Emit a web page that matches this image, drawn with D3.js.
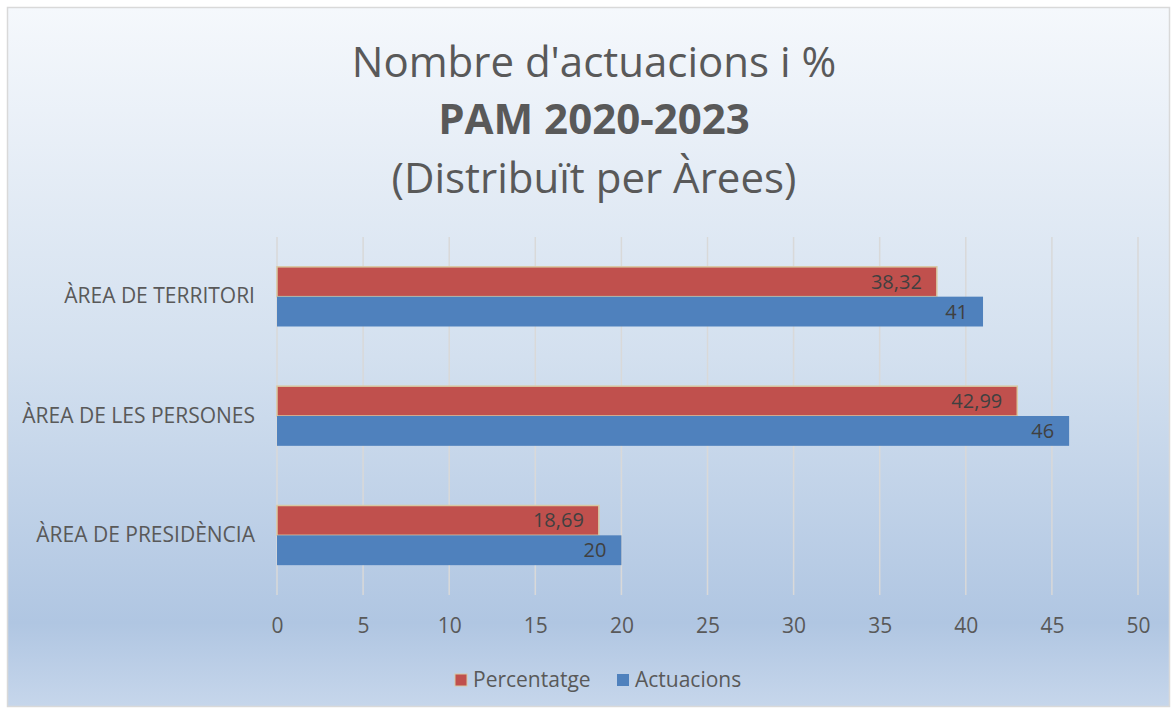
<!DOCTYPE html>
<html>
<head>
<meta charset="utf-8">
<script src="https://cdn.jsdelivr.net/npm/d3@7"></script>
<style>
  body { margin: 0; background: #fff; }
  svg text { font-family: "Open Sans", "Noto Sans", sans-serif; }
</style>
</head>
<body>
<div id="chart"></div>
<script>
  // chart data
  var categories = ['ÀREA DE TERRITORI', 'ÀREA DE LES PERSONES', 'ÀREA DE PRESIDÈNCIA'];
  var percentatge = [38.32, 42.99, 18.69];
  var actuacions = [41, 46, 20];
  var seriesNames = ['Percentatge', 'Actuacions'];
  var xTicks = [0, 5, 10, 15, 20, 25, 30, 35, 40, 45, 50];

  var width = 1173, height = 710;
  var margin = {top: 237, right: 35, bottom: 115, left: 277};
  var colors = {Percentatge: '#c0504d', Actuacions: '#4f81bd'};

  var svg = d3.select('#chart').append('svg')
    .attr('width', width)
    .attr('height', height);

  var defs = svg.append('defs');
  var grad = defs.append('linearGradient')
    .attr('id', 'bg')
    .attr('x1', 0).attr('y1', 0).attr('x2', 0).attr('y2', 1);
  grad.append('stop').attr('offset', '0%').attr('stop-color', '#f5f8fc');
  grad.append('stop').attr('offset', '50%').attr('stop-color', '#d3e0ef');
  grad.append('stop').attr('offset', '88%').attr('stop-color', '#b0c6e2');
  grad.append('stop').attr('offset', '100%').attr('stop-color', '#c6d6eb');

  svg.append('rect')
    .attr('x', 7.5).attr('y', 7.5)
    .attr('width', width - 11).attr('height', height - 11)
    .attr('fill', 'url(#bg)')
    .attr('stroke', '#d9d9d9')
    .attr('stroke-width', 1.5);

  // title
  var title = svg.append('g').attr('fill', '#595959').attr('text-anchor', 'middle');
  title.append('text').attr('x', 594).attr('y', 77).style('font-size', '42px')
    .text("Nombre d'actuacions i %");
  title.append('text').attr('x', 594).attr('y', 134).style('font-size', '42px')
    .style('font-weight', 'bold').text('PAM 2020-2023');
  title.append('text').attr('x', 594).attr('y', 193).style('font-size', '42px')
    .text('(Distribuït per Àrees)');

  var plotW = 1138 - margin.left;
  var plotH = 595 - margin.top;

  var x = d3.scaleLinear().domain([0, 50]).range([0, plotW]);
  var y = d3.scaleBand().domain(categories).range([0, plotH]).paddingInner(0.5).paddingOuter(0.25);
  var ySub = d3.scaleBand().domain(seriesNames).range([0, y.bandwidth()]);

  var g = svg.append('g').attr('transform', 'translate(' + margin.left + ',' + margin.top + ')');

  // gridlines
  g.append('g').selectAll('line')
    .data(xTicks)
    .enter().append('line')
    .attr('x1', function(d) { return x(d); })
    .attr('x2', function(d) { return x(d); })
    .attr('y1', 0).attr('y2', plotH)
    .attr('stroke', '#d9d9d9')
    .attr('stroke-width', 1.5);

  // x axis labels
  var xAxis = g.append('g')
    .attr('transform', 'translate(0,' + (plotH + 23) + ')')
    .call(d3.axisBottom(x).tickValues(xTicks).tickSize(0).tickPadding(0));
  xAxis.select('.domain').remove();
  xAxis.selectAll('text')
    .attr('fill', '#595959')
    .style('font-size', '21px');

  // category labels
  var yAxis = g.append('g')
    .attr('transform', 'translate(-22,0)')
    .call(d3.axisLeft(y).tickSize(0).tickPadding(0));
  yAxis.select('.domain').remove();
  yAxis.selectAll('text')
    .attr('fill', '#595959')
    .style('font-size', '21px');

  var rows = categories.map(function(c, i) {
    return {cat: c, values: [
      {name: 'Percentatge', value: percentatge[i], label: d3.format('.2f')(percentatge[i]).replace('.', ',')},
      {name: 'Actuacions', value: actuacions[i], label: String(actuacions[i])}
    ]};
  });

  var groups = g.selectAll('.cat')
    .data(rows)
    .enter().append('g')
    .attr('class', 'cat')
    .attr('transform', function(d) { return 'translate(0,' + y(d.cat) + ')'; });

  groups.selectAll('rect')
    .data(function(d) { return d.values; })
    .enter().append('rect')
    .attr('x', 0)
    .attr('y', function(d) { return ySub(d.name); })
    .attr('width', function(d) { return x(d.value); })
    .attr('height', ySub.bandwidth())
    .attr('fill', function(d) { return colors[d.name]; })
    .attr('stroke', function(d) { return d.name === 'Percentatge' ? '#d8c9a3' : 'none'; })
    .attr('stroke-width', 1.5);

  groups.selectAll('.lbl')
    .data(function(d) { return d.values; })
    .enter().append('text')
    .attr('class', 'lbl')
    .attr('x', function(d) { return x(d.value) - 15; })
    .attr('y', function(d) { return ySub(d.name) + ySub.bandwidth() / 2; })
    .attr('dy', '0.35em')
    .attr('text-anchor', 'end')
    .attr('fill', '#404040')
    .style('font-size', '20px')
    .text(function(d) { return d.label; });

  // legend
  var legend = svg.append('g').attr('transform', 'translate(455,680)');
  var items = [{name: 'Percentatge', x: 0}, {name: 'Actuacions', x: 162}];
  items.forEach(function(it) {
    legend.append('rect')
      .attr('x', it.x).attr('y', -6)
      .attr('width', 12).attr('height', 12)
      .attr('fill', colors[it.name])
      .attr('stroke', it.name === 'Percentatge' ? '#d8c9a3' : 'none');
    legend.append('text')
      .attr('x', it.x + 18).attr('y', 0)
      .attr('dy', '0.35em')
      .attr('fill', '#595959')
      .style('font-size', '21px')
      .text(it.name);
  });
</script>
</body>
</html>
